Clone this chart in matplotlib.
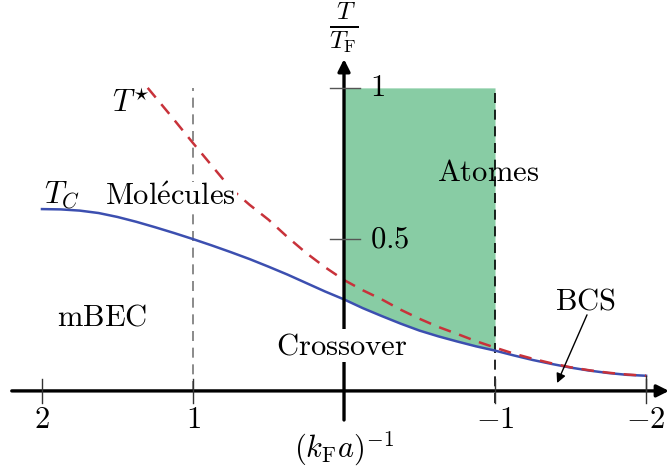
import matplotlib
matplotlib.use("Agg")
import numpy as np
import matplotlib.pyplot as plt

plt.rcParams['mathtext.fontset'] = 'cm'

# Données : (k_F a)^-1 et T/T_F
x_tc = [2.0, 1.875, 1.75, 1.625, 1.5, 1.375, 1.25, 1.125, 1.0,
        0.875, 0.75, 0.625, 0.5, 0.375, 0.25, 0.125, 0.0,
        -0.125, -0.25, -0.375, -0.5, -0.625, -0.75, -0.875, -1.0,
        -1.125, -1.25, -1.375, -1.5, -1.625, -1.75, -1.875, -2.0]
tc = [0.600, 0.599, 0.595, 0.587, 0.574, 0.558, 0.540, 0.521, 0.501,
      0.480, 0.458, 0.435, 0.410, 0.384, 0.356, 0.328, 0.302,
      0.273, 0.247, 0.222, 0.199, 0.180, 0.163, 0.147, 0.133,
      0.117, 0.102, 0.089, 0.077, 0.067, 0.059, 0.053, 0.050]

x_ts = [1.3, 1.15, 1.0, 0.875, 0.75, 0.625, 0.5, 0.375, 0.25, 0.125, 0.0,
        -0.125, -0.25, -0.375, -0.5, -0.625, -0.75, -0.875, -1.0,
        -1.125, -1.25, -1.375, -1.5, -1.625, -1.75, -1.875, -2.0]
tstar = [1.00, 0.910, 0.818, 0.743, 0.668, 0.614, 0.565, 0.508, 0.455, 0.408, 0.366,
         0.332, 0.302, 0.268, 0.238, 0.211, 0.188, 0.164, 0.143,
         0.123, 0.106, 0.091, 0.078, 0.068, 0.060, 0.054, 0.050]

xticks = [2, 1, -1, -2]
xtick_labels = ['$2$', '$1$', '$-1$', '$-2$']
yticks = [1, 0.5]
ytick_labels = ['$1$', '$0.5$']

fs = 22
fig = plt.figure(figsize=(6.69, 4.70), dpi=100)
ax = fig.add_axes([0, 0, 1, 1])
ax.set_xlim(2.278, -2.152)
ax.set_ylim(-0.261, 1.290)
ax.axis('off')

# zone verte "Atomes"
x_arr = np.array(x_tc)
tc_arr = np.array(tc)
m = (x_arr <= 0) & (x_arr >= -1)
ax.fill_between(x_arr[m], tc_arr[m], 1, color='#88cca4', lw=0, zorder=1)

# lignes pointillées verticales
ax.plot([1, 1], [0, 1], color='#777777', lw=1.2, ls=(0, (6, 4)), zorder=2)
ax.plot([-1, -1], [-0.04, 1], color='black', lw=1.2, ls=(0, (6, 4)), zorder=2)

# courbes
ax.plot(x_tc, tc, color='#3c4fb0', lw=1.8, zorder=3)
ax.plot(x_ts, tstar, color='#c8323a', lw=1.8, ls=(0, (5, 3.5)), zorder=4)

# axes avec flèches
ax.annotate('', xy=(-2.152, 0), xytext=(2.2, 0),
            arrowprops=dict(arrowstyle='-|>', lw=2.4, color='black',
                            mutation_scale=18, shrinkA=0, shrinkB=0), zorder=5)
ax.annotate('', xy=(0, 1.095), xytext=(0, -0.096),
            arrowprops=dict(arrowstyle='-|>', lw=2.4, color='black',
                            mutation_scale=18, shrinkA=0, shrinkB=0), zorder=5)

# graduations
for xt, lab in zip(xticks, xtick_labels):
    ax.plot([xt, xt], [-0.04, 0.04], color='#333333', lw=1.0, zorder=5)
    ax.text(xt, -0.096, lab, fontsize=fs, ha='center', va='center')
ax.plot([-2, -2], [0, 0.05], color='#333333', lw=1.0, zorder=5)
for yt, lab in zip(yticks, ytick_labels):
    ax.plot([0.093, -0.106], [yt, yt], color='#555555', lw=1.0, zorder=5)
    ax.text(-0.17, yt, lab, fontsize=fs, ha='left', va='center')

ax.text(0, -0.19, r'$(k_{\mathrm{F}}a)^{-1}$', fontsize=fs, ha='center', va='center')
ax.text(0, 1.20, r'$\frac{T}{T_{\mathrm{F}}}$', fontsize=fs + 4, ha='center', va='center')

# étiquettes
ax.text(1.41, 0.95, r'$T^{\star}$', fontsize=fs, ha='center', va='center')
ax.text(1.864, 0.645, r'$T_C$', fontsize=fs, ha='center', va='center')
ax.text(1.149, 0.64, r'$\mathrm{Mol\acute{e}cules}$', fontsize=fs, ha='center', va='center',
        bbox=dict(facecolor='white', edgecolor='none', pad=0.5), zorder=6)
ax.text(1.60, 0.244, r'$\mathrm{mBEC}$', fontsize=fs, ha='center', va='center')
ax.text(0.013, 0.149, r'$\mathrm{Crossover}$', fontsize=fs, ha='center', va='center',
        bbox=dict(facecolor='white', edgecolor='none', pad=1.5), zorder=6)
ax.text(-0.954, 0.72, r'$\mathrm{Atomes}$', fontsize=fs, ha='center', va='center', zorder=6)
ax.text(-1.60, 0.297, r'$\mathrm{BCS}$', fontsize=fs, ha='center', va='center')
ax.annotate('', xy=(-1.411, 0.026), xytext=(-1.609, 0.251),
            arrowprops=dict(arrowstyle='-|>', lw=1.0, color='black',
                            mutation_scale=14, shrinkA=0, shrinkB=0), zorder=6)

fig.savefig('out.png', dpi=100)
